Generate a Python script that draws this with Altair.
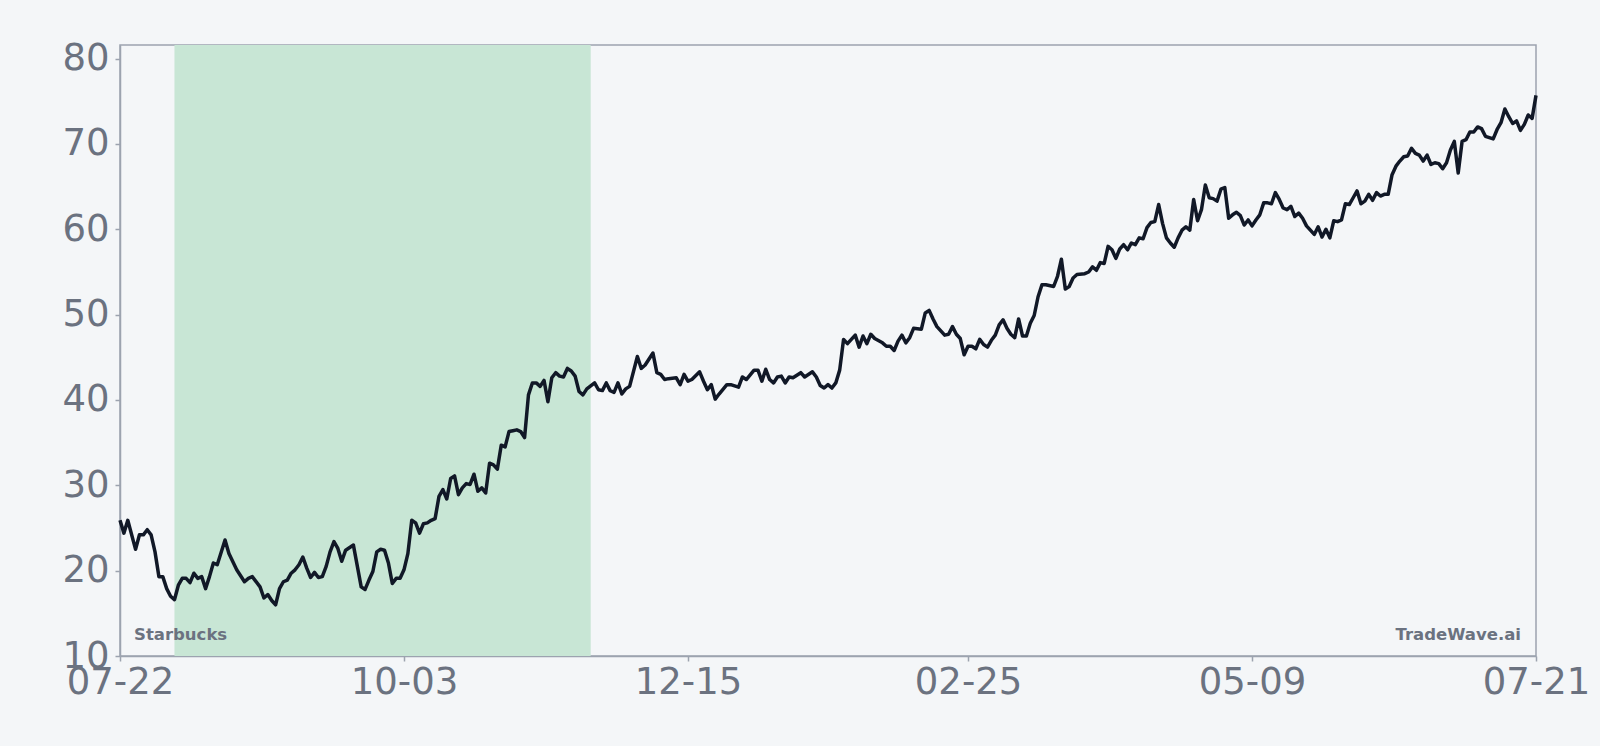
import altair as alt
import pandas as pd

# Day offsets from 07-22 and closing prices
days = [0,1,2,4,5,6,7,8,9,10,11,12,13,14,15,16,17,18,19,20,21,22,23,24,25,27,28,30,32,33,34,36,37,38,39,40,
        41,42,43,44,45,46,47,48,49,50,51,52,53,54,55,56,57,58,60,
        62,63,64,65,66,67,68,69,70,71,72,73,74,75,76,77,78,79,80,81,82,83,84,85,86,87,88,89,90,
        91,92,93,94,95,96,97,98,99,100,101,102,103,104,105,106,107,108,109,110,111,112,113,114,115,
        116,117,118,119,120,122,123,
        124,125,126,127,128,129,130,131,133,134,135,137,138,139,140,141,143,144,145,146,147,149,150,
        151,152,153,154,156,157,159,160,161,163,164,165,166,167,168,169,170,171,172,173,175,176,178,
        179,180,181,182,183,184,185,186,187,188,189,190,191,192,193,194,196,197,198,199,200,201,202,
        203,204,206,207,208,209,210,212,213,214,215,216,217,218,219,220,221,222,223,224,225,226,227,
        228,229,230,231,232,233,234,235,236,237,238,240,241,242,243,244,245,
        246,248,249,250,251,252,253,254,255,256,257,258,259,260,261,262,263,264,265,266,267,268,269,
        270,271,272,273,274,275,276,277,278,279,280,281,282,283,284,285,286,287,288,289,290,291,292,
        293,294,295,296,297,298,299,300,301,302,303,304,305,306,307,308,309,310,311,312,313,314,315,
        316,317,318,319,320,321,322,323,324,325,326,327,328,329,330,331,332,333,334,335,336,337,338,
        339,340,341,342,343,344,345,346,347,348,349,350,351,353,354,355,356,357,358,359,360,361,362,
        363,364]
prices = [25.9,24.4,25.9,22.5,24.2,24.2,24.8,24.2,22.2,19.3,19.3,17.9,17.0,16.6,18.3,19.1,19.1,18.6,19.7,19.1,
          19.3,17.9,19.3,20.9,20.7,23.6,22.0,20.1,18.7,19.1,19.3,18.1,16.8,17.2,16.5,16.0,
          17.9,18.7,18.9,19.7,20.1,20.7,21.6,20.3,19.2,19.8,19.2,19.3,20.5,22.2,23.4,22.6,21.1,22.4,23.0,
          18.1,17.8,18.9,19.9,22.2,22.5,22.4,20.9,18.5,19.1,19.1,20.1,22.0,25.9,25.6,24.4,25.5,25.6,25.9,
          26.1,28.7,29.5,28.4,30.8,31.1,28.9,29.7,30.2,30.1,
          31.3,29.3,29.7,29.1,32.6,32.4,31.9,34.7,34.5,36.3,36.4,36.5,36.3,35.6,40.6,42.0,42.0,41.6,42.3,
          39.8,42.6,43.2,42.8,42.7,43.7,
          43.4,42.8,41.0,40.6,41.3,42.0,41.2,
          41.1,42.0,41.1,40.9,42.0,40.7,41.3,41.6,45.1,43.7,44.1,45.5,43.2,43.0,42.4,42.5,42.6,41.8,43.0,
          42.2,42.4,43.3,42.2,
          41.2,41.8,40.1,40.7,41.8,41.8,41.5,42.7,42.4,43.5,43.5,42.2,43.6,42.4,42.0,42.7,42.8,42.0,42.7,
          42.6,43.2,42.7,43.3,
          42.7,41.7,41.4,41.8,41.4,42.0,43.5,47.1,46.6,47.1,47.6,46.2,47.5,46.6,47.7,47.2,46.7,46.3,46.3,
          45.8,46.9,47.6,46.7,
          47.3,48.4,48.3,50.2,50.5,49.5,48.6,47.6,47.7,48.6,47.7,47.2,45.3,46.3,46.3,46.0,47.1,46.5,46.2,
          47.0,47.6,48.8,49.4,
          48.4,47.7,47.3,49.5,47.5,47.5,49.0,49.9,52.1,53.5,53.5,53.3,54.5,56.5,53.0,53.3,54.3,
          54.7,54.8,55.0,55.6,55.2,56.1,56.0,58.0,57.6,56.6,57.7,58.2,57.6,58.4,58.2,59.0,58.9,60.2,60.8,
          60.9,62.9,60.7,59.0,
          58.4,57.9,59.0,59.9,60.3,59.9,63.5,61.0,62.3,65.2,63.7,63.6,63.3,64.7,64.9,61.3,61.7,62.0,61.6,
          60.5,61.1,60.4,61.1,
          61.7,63.1,63.1,63.0,64.3,63.5,62.5,62.3,62.7,61.5,61.9,61.3,60.4,59.9,59.4,60.3,59.1,60.0,59.0,
          61.0,60.9,61.1,63.0,
          62.9,63.7,64.5,63.0,63.3,64.1,63.4,64.3,63.9,64.1,64.1,66.4,67.4,68.0,68.5,68.6,69.5,68.9,68.7,
          68.0,68.7,67.6,67.8,
          67.7,67.1,67.8,69.3,70.3,66.6,70.3,70.5,71.4,71.4,72.0,71.8,70.9,70.6,71.7,72.5,74.1,73.2,72.4,
          72.7,71.6,72.3,73.4,
          73.0,75.7]

# Tick labels
x_tick_days = [0, 73, 146, 218, 291, 364]
x_tick_labels = ["07-22", "10-03", "12-15", "02-25", "05-09", "07-21"]
y_ticks = [10, 20, 30, 40, 50, 60, 70, 80]

# Highlighted period (day offsets)
band_start = [14]
band_end = [121]

W, H = 1416, 611
BG = "#f4f6f8"
GRAY = "#6b7280"
FRAME = "#9ca3af"

df = pd.DataFrame({"day": days, "price": prices})
band_df = pd.DataFrame({"start": band_start, "end": band_end})

label_expr = ""
for d, lab in zip(x_tick_days, x_tick_labels):
    label_expr += f"datum.value == {d} ? '{lab}' : "
label_expr += "''"

x_scale = alt.Scale(domain=[0, 364], nice=False, zero=False)
y_scale = alt.Scale(domain=[10, 81.6], nice=False, zero=False)

x_axis = alt.Axis(values=x_tick_days, labelExpr=label_expr, title=None, grid=False,
                  labelFontSize=37, labelColor=GRAY, labelFont="DejaVu Sans",
                  labelFlush=False, labelOverlap=False, labelBound=False,
                  tickColor=FRAME, tickSize=5, tickWidth=1.5, labelPadding=3,
                  domainColor=FRAME, domainWidth=1.5)
y_axis = alt.Axis(values=y_ticks, title=None, grid=False,
                  labelFontSize=37, labelColor=GRAY, labelFont="DejaVu Sans",
                  labelOverlap=False, labelBound=False, labelFlush=False,
                  tickColor=FRAME, tickSize=5, tickWidth=1.5, labelPadding=6,
                  domainColor=FRAME, domainWidth=1.5)

band = alt.Chart(band_df).mark_rect(color="#c8e6d5", opacity=1).encode(
    x=alt.X("start:Q", scale=x_scale, axis=x_axis),
    x2="end:Q",
    y=alt.value(0),
    y2=alt.value(H),
)

line = alt.Chart(df).mark_line(color="#111827", strokeWidth=3.5, strokeJoin="round").encode(
    x=alt.X("day:Q", scale=x_scale, axis=x_axis),
    y=alt.Y("price:Q", scale=y_scale, axis=y_axis),
)

left_txt = alt.Chart(pd.DataFrame({"t": ["Starbucks"]})).mark_text(
    align="left", baseline="alphabetic", fontSize=16.5, fontWeight="bold", color=GRAY, font="DejaVu Sans"
).encode(text="t:N", x=alt.value(14), y=alt.value(H - 16))

right_txt = alt.Chart(pd.DataFrame({"t": ["TradeWave.ai"]})).mark_text(
    align="right", baseline="alphabetic", fontSize=16.5, fontWeight="bold", color=GRAY, font="DejaVu Sans"
).encode(text="t:N", x=alt.value(W - 15), y=alt.value(H - 16))

chart = alt.layer(band, line, left_txt, right_txt).properties(
    width=W, height=H,
    autosize=alt.AutoSizeParams(type="none"),
    padding={"left": 120, "top": 45, "right": 64, "bottom": 90},
    background=BG,
).configure_view(stroke=FRAME, strokeWidth=1.5, fill=BG)

chart.save("out.html", embed_options={"renderer": "svg", "actions": False})
